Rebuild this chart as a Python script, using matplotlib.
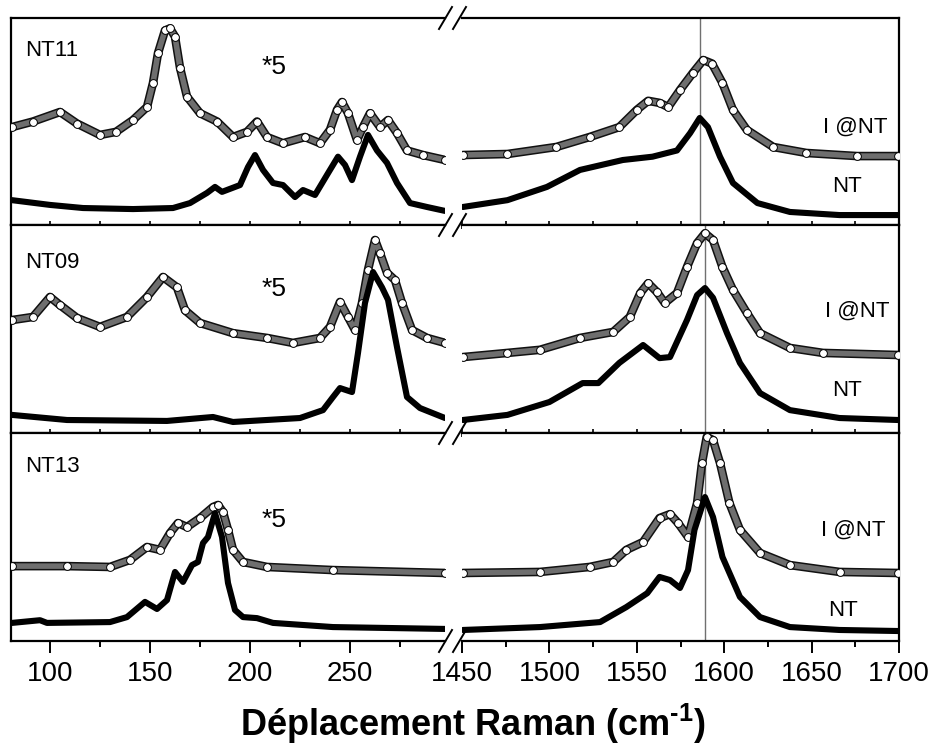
import matplotlib
matplotlib.use('Agg')
import matplotlib.pyplot as plt
import numpy as np
from matplotlib import patheffects as pe
from matplotlib.lines import Line2D
from matplotlib.ticker import MultipleLocator

plt.rcParams['font.family'] = ['Liberation Sans', 'DejaVu Sans']
plt.rcParams['mathtext.fontset'] = 'custom'
plt.rcParams['mathtext.rm'] = 'Liberation Sans:bold'
plt.rcParams['mathtext.bf'] = 'Liberation Sans:bold'

# ---- data (normalised intensity, 0..1 per panel) ----
samples = ['NT11', 'NT09', 'NT13']

# NT11, low frequency (RBM) region
nt11_lo_w_i = [81, 91.5, 105, 113.5, 125, 133, 141.5, 148.5, 151.5, 154, 157.5, 160, 162.5, 165, 168.5, 175,
               183.5, 191.5, 198.5, 203.5, 208.5, 216.5, 227.5, 235, 240, 243.5, 246, 249, 253.5, 256.5, 260,
               265, 269, 273.5, 278.5, 286.5, 297.5]
nt11_lo_i = [0.473, 0.50, 0.546, 0.49, 0.435, 0.45, 0.507, 0.57, 0.686, 0.83, 0.94, 0.95, 0.91, 0.76, 0.62, 0.54,
             0.50, 0.425, 0.45, 0.50, 0.425, 0.395, 0.425, 0.395, 0.46, 0.556, 0.594, 0.54, 0.41, 0.473, 0.54,
             0.473, 0.507, 0.444, 0.36, 0.338, 0.314]
nt11_lo_w_n = [81, 100, 116.5, 141.5, 161.5, 170, 178.5, 182.5, 186, 195, 199, 202.5, 206.5, 211.5, 216.5, 222.5,
               226.5, 232.5, 239, 244, 247.5, 251, 255, 259, 263.5, 268.5, 273.5, 280, 288.5, 297.5]
nt11_lo_n = [0.12, 0.097, 0.082, 0.077, 0.082, 0.106, 0.155, 0.184, 0.16, 0.193, 0.28, 0.338, 0.266, 0.203, 0.193,
             0.135, 0.169, 0.145, 0.25, 0.33, 0.29, 0.217, 0.33, 0.435, 0.36, 0.30, 0.203, 0.106, 0.087, 0.068]
# NT11, G band region
nt11_hi_w_i = [1450.5, 1476, 1504, 1523, 1540, 1550, 1556.5, 1563, 1568, 1574.7, 1582, 1588, 1593, 1599, 1605,
               1613, 1628, 1647, 1676, 1699.5]
nt11_hi_i = [0.338, 0.343, 0.377, 0.425, 0.473, 0.556, 0.60, 0.59, 0.57, 0.652, 0.734, 0.797, 0.78, 0.686, 0.556,
             0.459, 0.377, 0.348, 0.333, 0.333]
nt11_hi_w_n = [1450.5, 1476, 1498.6, 1517.5, 1542, 1559, 1573, 1580.5, 1586, 1590.7, 1597.6, 1605, 1619, 1637.6,
               1666, 1699.5]
nt11_hi_n = [0.087, 0.12, 0.184, 0.266, 0.314, 0.33, 0.36, 0.444, 0.517, 0.473, 0.33, 0.203, 0.106, 0.063, 0.048,
             0.048]

# NT09
nt09_lo_w_i = [81, 91.5, 100, 105, 113.5, 125, 138.5, 148.5, 156.5, 163.5, 167.5, 175, 191.5, 208.5, 221.5, 235,
               240, 245, 249, 252.5, 256, 259, 262.5, 265, 268.5, 272.5, 276, 281, 288.5, 297.5]
nt09_lo_i = [0.543, 0.558, 0.654, 0.615, 0.553, 0.51, 0.558, 0.654, 0.75, 0.70, 0.59, 0.529, 0.48, 0.457, 0.433,
             0.457, 0.51, 0.63, 0.558, 0.495, 0.625, 0.784, 0.928, 0.865, 0.77, 0.735, 0.625, 0.495, 0.457, 0.433]
nt09_lo_w_n = [81, 108.5, 158.5, 181.5, 191.5, 225, 236.5, 241.5, 245, 251, 254, 257.5, 261.5, 266, 269, 273.5,
               278.5, 285, 297.5]
nt09_lo_n = [0.087, 0.0625, 0.058, 0.077, 0.053, 0.072, 0.11, 0.173, 0.216, 0.197, 0.385, 0.625, 0.774, 0.70,
             0.64, 0.413, 0.173, 0.12, 0.072]
nt09_hi_w_i = [1450.5, 1476, 1494.6, 1517.5, 1536.5, 1546, 1552, 1556.5, 1561.5, 1566, 1573, 1578.7, 1584.5,
               1589, 1593.6, 1599, 1605, 1613, 1620.5, 1637.6, 1656.5, 1699.5]
nt09_hi_i = [0.365, 0.385, 0.40, 0.457, 0.486, 0.558, 0.673, 0.72, 0.678, 0.625, 0.673, 0.798, 0.913, 0.96, 0.928,
             0.798, 0.688, 0.577, 0.48, 0.409, 0.385, 0.375]
nt09_hi_w_n = [1450.5, 1476, 1500, 1519, 1528, 1540, 1553.6, 1563, 1569, 1578.7, 1584.5, 1589, 1593.6, 1601.6,
               1609, 1620.5, 1637.6, 1666, 1699.5]
nt09_hi_n = [0.0625, 0.087, 0.149, 0.24, 0.24, 0.337, 0.423, 0.36, 0.365, 0.543, 0.663, 0.697, 0.65, 0.48, 0.337,
             0.192, 0.11, 0.072, 0.0625]

# NT13
nt13_lo_w_i = [81, 108.5, 130, 140, 148.5, 155, 160, 164, 168.5, 175, 181.5, 184, 186.5, 189, 191.5, 196.5, 208.5,
               241.5, 297.5]
nt13_lo_i = [0.36, 0.36, 0.356, 0.39, 0.452, 0.438, 0.519, 0.567, 0.548, 0.591, 0.644, 0.654, 0.62, 0.534, 0.438,
             0.38, 0.356, 0.341, 0.327]
nt13_lo_w_n = [81, 95, 98.5, 130, 138.5, 147.5, 153.5, 158.5, 162.5, 166.5, 171, 174, 176.5, 179, 182.5, 186, 189,
               192.5, 196.5, 203.5, 211.5, 241.5, 297.5]
nt13_lo_n = [0.087, 0.10, 0.087, 0.091, 0.115, 0.188, 0.154, 0.197, 0.332, 0.284, 0.365, 0.38, 0.471, 0.50, 0.615,
             0.50, 0.279, 0.149, 0.115, 0.11, 0.087, 0.067, 0.058]
nt13_hi_w_i = [1450.5, 1494.6, 1523, 1536.5, 1544, 1553.6, 1563, 1569, 1573.6, 1579.3, 1584.5, 1587.3, 1590,
               1593.6, 1597.6, 1603, 1609, 1620.5, 1637.6, 1666, 1699.5]
nt13_hi_i = [0.327, 0.332, 0.356, 0.38, 0.438, 0.476, 0.591, 0.61, 0.567, 0.50, 0.663, 0.856, 0.981, 0.966, 0.856,
             0.663, 0.534, 0.423, 0.365, 0.332, 0.327]
nt13_hi_w_n = [1450.5, 1494.6, 1529, 1544, 1556, 1563, 1569, 1574.7, 1579.3, 1583, 1589, 1593.6, 1599, 1609,
               1620.5, 1637.6, 1666, 1699.5]
nt13_hi_n = [0.053, 0.067, 0.091, 0.163, 0.23, 0.308, 0.293, 0.255, 0.341, 0.534, 0.692, 0.596, 0.404, 0.212,
             0.115, 0.067, 0.053, 0.048]

g_line_pos = [1586, 1589, 1589]

lo_series = [(nt11_lo_w_i, nt11_lo_i, nt11_lo_w_n, nt11_lo_n),
             (nt09_lo_w_i, nt09_lo_i, nt09_lo_w_n, nt09_lo_n),
             (nt13_lo_w_i, nt13_lo_i, nt13_lo_w_n, nt13_lo_n)]
hi_series = [(nt11_hi_w_i, nt11_hi_i, nt11_hi_w_n, nt11_hi_n),
             (nt09_hi_w_i, nt09_hi_i, nt09_hi_w_n, nt09_hi_n),
             (nt13_hi_w_i, nt13_hi_i, nt13_hi_w_n, nt13_hi_n)]

# ---- layout (pixel geometry of the reference, 938x749) ----
W, H = 938, 749
fig = plt.figure(figsize=(W / 100, H / 100), dpi=100)
panel_px = [(18, 225), (225, 433), (433, 641)]
lo_px = (11, 445)
hi_px = (462, 899)

star_y = [0.763, 0.692, 0.582]
name_y = [0.845, 0.822, 0.84]
lab_i = [(0.899, 0.473), (0.904, 0.587), (0.895, 0.534)]
lab_n = [(0.881, 0.184), (0.881, 0.202), (0.872, 0.149)]


def draw_dop(ax, w, v):
    # dense chain of open circles in the original: a dark hollow tube plus open markers
    ax.plot(w, v, color='#6e6e6e', lw=4.0, solid_capstyle='round', solid_joinstyle='round', zorder=2,
            path_effects=[pe.Stroke(linewidth=6.2, foreground='#111111'), pe.Normal()])
    ax.plot(w, v, ls='none', marker='o', ms=5.6, mfc='white', mec='black', mew=0.7, zorder=3)


for k, (top, bot) in enumerate(panel_px):
    b = 1 - bot / H
    h = (bot - top) / H
    axl = fig.add_axes([lo_px[0] / W, b, (lo_px[1] - lo_px[0]) / W, h])
    axr = fig.add_axes([hi_px[0] / W, b, (hi_px[1] - hi_px[0]) / W, h])

    wi, vi, wn, vn = lo_series[k]
    draw_dop(axl, wi, vi)
    axl.plot(wn, vn, color='black', lw=4.4, solid_joinstyle='round', solid_capstyle='round', zorder=4)
    wi, vi, wn, vn = hi_series[k]
    draw_dop(axr, wi, vi)
    axr.plot(wn, vn, color='black', lw=4.4, solid_joinstyle='round', solid_capstyle='round', zorder=4)
    axr.axvline(g_line_pos[k], color='#707070', lw=1.0, zorder=1)

    axl.set_xlim(80.5, 297.5)
    axr.set_xlim(1450, 1700)
    for ax in (axl, axr):
        ax.set_ylim(0, 1)
        ax.set_yticks([])
        for s in ax.spines.values():
            s.set_linewidth(1.6)
        if k == 2:
            ax.tick_params(axis='x', which='major', direction='out', length=8.5, width=1.4,
                           labelsize=20, pad=6)
            ax.tick_params(axis='x', which='minor', direction='out', length=4.3, width=1.4)
        else:
            ax.tick_params(axis='x', which='both', direction='inout', length=6, width=1.2,
                           labelbottom=False)
    axl.xaxis.set_major_locator(MultipleLocator(50))
    axl.xaxis.set_minor_locator(MultipleLocator(25))
    axr.xaxis.set_major_locator(MultipleLocator(50))
    axr.xaxis.set_minor_locator(MultipleLocator(25))
    axl.spines['right'].set_visible(False)
    axr.spines['left'].set_visible(False)

    axl.text(0.032, name_y[k], samples[k], transform=axl.transAxes, fontsize=16, va='center', ha='left')
    axl.text(0.578, star_y[k], '*5', transform=axl.transAxes, fontsize=19, va='center', ha='left')
    axr.text(lab_i[k][0], lab_i[k][1], 'I @NT', transform=axr.transAxes, fontsize=16, va='center', ha='center')
    axr.text(lab_n[k][0], lab_n[k][1], 'NT', transform=axr.transAxes, fontsize=16, va='center', ha='center')

# axis break marks
for y in [18, 225, 433, 641]:
    for x0 in (439, 453):
        fig.add_artist(Line2D([x0 / W, (x0 + 13) / W], [1 - (y + 11) / H, 1 - (y - 11) / H],
                              transform=fig.transFigure, color='black', lw=1.4))

fig.text(473 / W, 1 - 724 / H, r'Déplacement Raman (cm$^{\text{-1}}$)', fontsize=26,
         fontweight='bold', ha='center', va='center')

fig.savefig('out.png', dpi=100)
